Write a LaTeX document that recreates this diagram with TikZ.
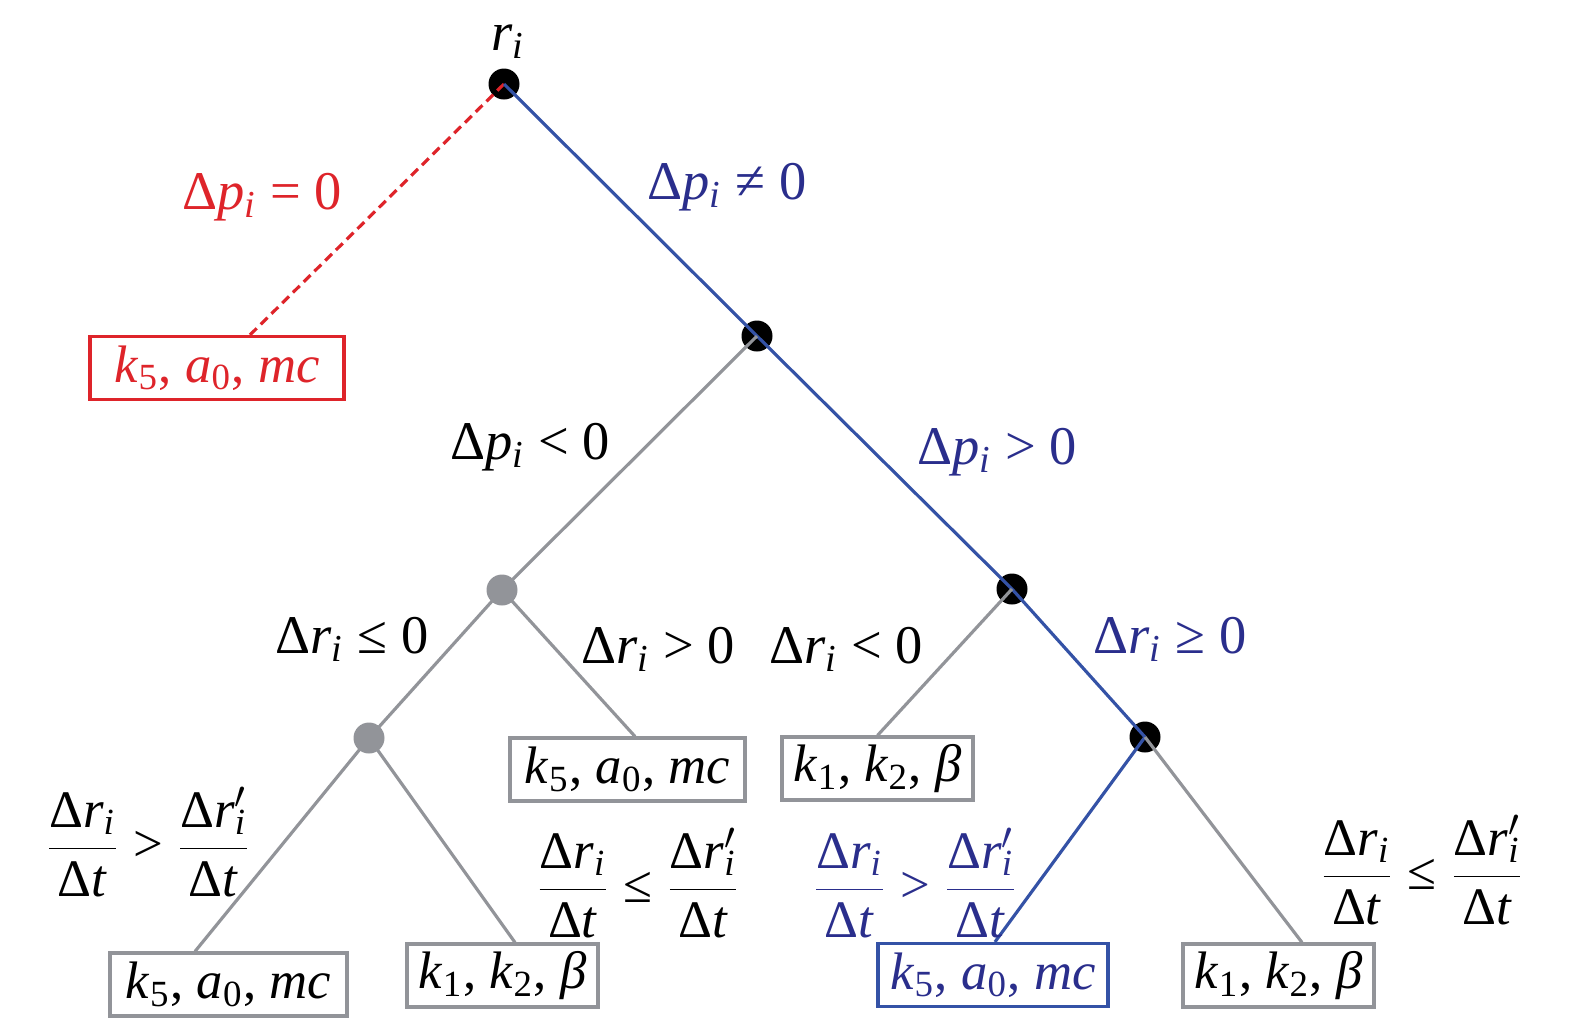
\documentclass[tikz,border=0pt]{standalone}
\usepackage{fontspec}
\setmainfont{Liberation Serif}
\definecolor{rojo}{RGB}{222,36,42}
\definecolor{azul}{RGB}{52,82,166}
\definecolor{azultxt}{RGB}{42,46,140}
\definecolor{gris}{RGB}{146,148,153}
\newcommand{\dP}{Δ\textit{p}\textsubscript{\textit{i}}}
\newcommand{\dR}{Δ\textit{r}\textsubscript{\textit{i}}}
\newcommand{\dRp}{Δ\textit{r}\rlap{$'$}\textsubscript{\textit{i}}}
\newcommand{\fr}[2]{$\displaystyle\frac{\mbox{#1}}{\mbox{#2}}$}
\newcommand{\kam}{\textit{k}\textsubscript{5}, \textit{a}\textsubscript{0}, \textit{mc}}
\newcommand{\kkb}{\textit{k}\textsubscript{1}, \textit{k}\textsubscript{2}, \textit{β}}
\begin{document}
\begin{tikzpicture}[
    every node/.style={font=\fontsize{15.5}{18}\selectfont},
    punto/.style={circle, fill=black, minimum size=0.31cm, inner sep=0pt},
    hoja/.style={draw=gris, line width=0.9pt, minimum height=0.63cm, inner sep=0pt, minimum width=#1, font=\fontsize{15}{18}\selectfont},
    frac/.style={font=\fontsize{15}{18}\selectfont},
    rama/.style={line width=0.9pt, gris}]

    \useasboundingbox (0,0) rectangle (15.75,-10.35);

    % Nodos de decision
    \node[punto] (root) at (5.04,-0.84) {};
    \node[punto] (n2) at (7.57,-3.36) {};
    \node[punto, fill=gris] (g1) at (5.02,-5.90) {};
    \node[punto] (n3) at (10.12,-5.89) {};
    \node[punto, fill=gris] (g2) at (3.69,-7.38) {};
    \node[punto] (n4) at (11.45,-7.37) {};

    % Hojas
    \node[hoja=2.54cm, draw=rojo, text=rojo] (hR) at (2.17,-3.68) {\kam};
    \node[hoja=2.35cm] (hB) at (6.275,-7.695) {\kam};
    \node[hoja=1.91cm] (hC) at (8.775,-7.685) {\kkb};
    \node[hoja=2.37cm] (hD) at (2.285,-9.845) {\kam};
    \node[hoja=1.91cm] (hE) at (5.025,-9.755) {\kkb};
    \node[hoja=2.30cm, draw=azul, text=azultxt] (hF) at (9.93,-9.75) {\kam};
    \node[hoja=1.91cm] (hG) at (12.785,-9.755) {\kkb};

    % Ramas
    \draw[line width=0.9pt, rojo, dash pattern=on 2.7pt off 1.6pt] (root.center) -- ([xshift=0.33cm]hR.north);
    \draw[line width=0.9pt, azul] (root.center) -- (n2.center) -- (n3.center) -- (n4.center);
    \draw[rama] (n2.center) -- (g1.center) -- (g2.center);
    \draw[rama] (g1.center) -- ([xshift=0.075cm]hB.north);
    \draw[rama] (n3.center) -- (hC.north);
    \draw[rama] (g2.center) -- ([xshift=-0.335cm]hD.north);
    \draw[rama] (g2.center) -- ([xshift=0.125cm]hE.north);
    \draw[line width=0.9pt, azul] (n4.center) -- ([xshift=0.02cm]hF.north);
    \draw[rama] (n4.center) -- ([xshift=0.235cm]hG.north);

    % Etiquetas
    \node (lr) at (5.08,-0.42) {\textit{r}\textsubscript{\textit{i}}};
    \node[text=rojo] (l1) at (2.62,-1.97) {\dP{} = 0};
    \node[text=azultxt] (l2) at (7.27,-1.87) {\dP{} ≠ 0};
    \node (l3) at (5.30,-4.47) {\dP{} < 0};
    \node[text=azultxt] (l4) at (9.97,-4.52) {\dP{} > 0};
    \node (l5) at (3.52,-6.39) {\dR{} ≤ 0};
    \node (l6) at (6.58,-6.49) {\dR{} > 0};
    \node (l7) at (8.46,-6.49) {\dR{} < 0};
    \node[text=azultxt] (l8) at (11.70,-6.39) {\dR{} ≥ 0};
    \node[frac] (l9) at (1.48,-8.42) {\fr{\dR}{Δ\textit{t}} > \fr{\dRp}{Δ\textit{t}}};
    \node[frac] (l10) at (6.38,-8.83) {\fr{\dR}{Δ\textit{t}} ≤ \fr{\dRp}{Δ\textit{t}}};
    \node[frac, text=azultxt] (l11) at (9.15,-8.83) {\fr{\dR}{Δ\textit{t}} > \fr{\dRp}{Δ\textit{t}}};
    \node[frac] (l12) at (14.22,-8.70) {\fr{\dR}{Δ\textit{t}} ≤ \fr{\dRp}{Δ\textit{t}}};

\end{tikzpicture}
\end{document}
